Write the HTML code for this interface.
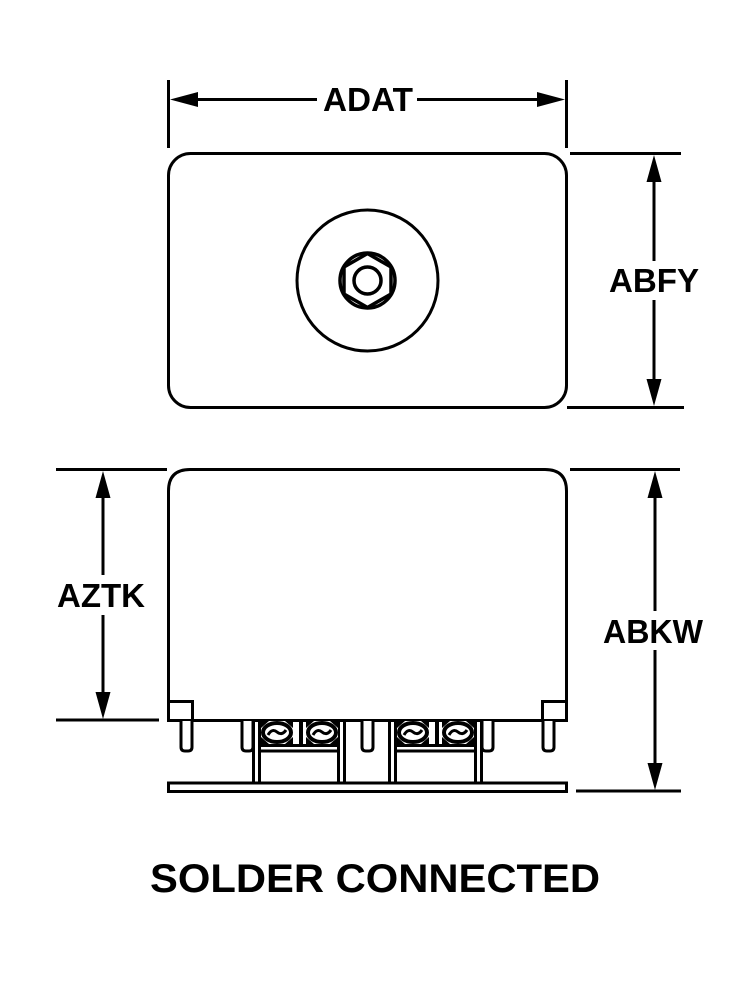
<!DOCTYPE html>
<html><head><meta charset="utf-8"><style>html,body{margin:0;padding:0;background:#fff}svg{display:block}text{font-family:"Liberation Sans",sans-serif;font-weight:bold;fill:#000}</style></head>
<body>
<svg width="750" height="982" viewBox="0 0 750 982" xmlns="http://www.w3.org/2000/svg">
<defs>
<g id="screw">
<rect x="-15" y="-11" width="31" height="23" fill="#fff"/>
<path d="M-16-11h8l-8 7zM16-11h-8l8 7zM-16 12h8l-8-7zM16 12h-8l8-7z" fill="#000"/>
<ellipse cx="0" cy="0.5" rx="14" ry="9.500" fill="#fff" stroke="#000" stroke-width="4"/>
<path d="M-9 3Q-5-4 0 0T9-2" fill="none" stroke="#000" stroke-width="3"/>
</g>
<g id="pin"><path d="M0 721V747Q0 751 4 751H7Q11 751 11 747V721" fill="#fff" stroke="#000" stroke-width="3"/></g>
</defs>
<g fill="none" stroke="#000" stroke-width="3">
<!-- top view -->
<rect x="168.500" y="153.500" width="398" height="254" rx="22" ry="22"/>
<circle cx="367.500" cy="280.500" r="70.500"/>
<circle cx="367.500" cy="280.500" r="27.500" stroke-width="3.500"/>
<path d="M367.500 253.500L391 267V294L367.500 307.500L344 294V267Z" stroke-width="3.500"/>
<circle cx="367.500" cy="280.500" r="13.500" stroke-width="3.500"/>
<!-- side view -->
<path d="M168.500 720V491Q168.500 469.500 190 469.500H545Q566.500 469.500 566.500 491V720"/>
<path d="M167 720.500H568"/>
<path d="M168 701.500H192.500V720M566 701.500H542.500V720"/>
<rect x="168.500" y="783" width="398" height="8.500"/>
<!-- dimension lines -->
<path d="M168.500 80V148M566.500 80V148M196 99.500H317M417 99.500H539"/>
<path d="M570 153.500H681M567 407.500H684M654 180V261M654 300V380"/>
<path d="M56 469.500H167M56 720H159M103 496V575M103 615V693"/>
<path d="M570 469.500H680M576 791H681M655 496V611M655 650V765"/>
</g>
<use href="#pin" x="181" y="0"/><use href="#pin" x="242" y="0"/><use href="#pin" x="362" y="0"/><use href="#pin" x="482" y="0"/><use href="#pin" x="543" y="0"/>
<g fill="none" stroke="#000" stroke-width="3">
<path d="M253.500 721V782M259.500 721V782M338.500 721V782M344.500 721V782"/>
<path d="M389.500 721V782M395.500 721V782M475.500 721V782M481.500 721V782"/>
<path d="M259 745.500H339M259 751H339M395 745.500H476M395 751H476"/>
</g>
<use href="#screw" x="277" y="732"/><use href="#screw" x="322" y="732"/><use href="#screw" x="413" y="732"/><use href="#screw" x="458" y="732"/>
<path d="M301 722v22M437 722v22" stroke="#000" stroke-width="4"/>
<g fill="#000">
<path d="M170 99.500L198 92V107ZM565 99.500L537 92V107Z"/>
<path d="M654 155L646.500 182H661.500ZM654 406L646.500 379H661.500Z"/>
<path d="M103 471L95.500 498H110.500ZM103 719L95.500 692H110.500Z"/>
<path d="M655 471L647.500 498H662.500ZM655 790L647.500 763H662.500Z"/>
</g>
<text x="323" y="111" font-size="33" textLength="90" lengthAdjust="spacingAndGlyphs">ADAT</text>
<text x="609" y="292" font-size="33" textLength="90" lengthAdjust="spacingAndGlyphs">ABFY</text>
<text x="57" y="607" font-size="33" textLength="88" lengthAdjust="spacingAndGlyphs">AZTK</text>
<text x="603" y="643" font-size="33" textLength="100" lengthAdjust="spacingAndGlyphs">ABKW</text>
<text x="150" y="892" font-size="40" textLength="450" lengthAdjust="spacingAndGlyphs">SOLDER CONNECTED</text>
</svg>
</body></html>
